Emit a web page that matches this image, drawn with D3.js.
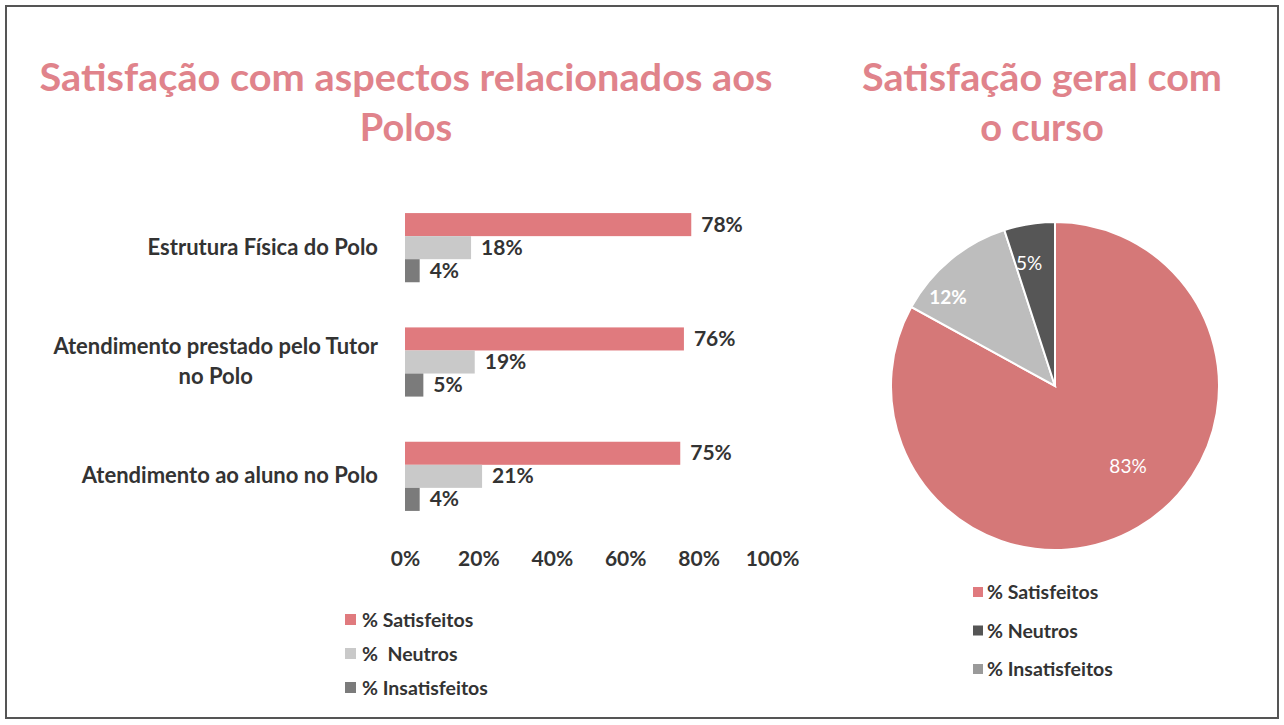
<!DOCTYPE html>
<html><head><meta charset="utf-8">
<script src="https://cdn.jsdelivr.net/npm/d3@7"></script>
<style>body{margin:0;background:#fff}svg{display:block}text{font-family:Lato,"Open Sans",sans-serif}</style>
</head><body>
<svg id="c" width="1284" height="725"></svg>
<script>
const categories = ["Estrutura Física do Polo", "Atendimento prestado pelo Tutor|no Polo", "Atendimento ao aluno no Polo"];
const seriesNames = ["% Satisfeitos", "%  Neutros", "% Insatisfeitos"];
const satisfeitos = [78, 76, 75];
const neutros = [18, 19, 21];
const insatisfeitos = [4, 5, 4];
const xTicks = [0, 20, 40, 60, 80, 100];
const pieLabels = ["% Satisfeitos", "% Neutros", "% Insatisfeitos"];
const pieValues = [83, 12, 5];
const barTitle = ["Satisfação com aspectos relacionados aos", "Polos"];
const pieTitle = ["Satisfação geral com", "o curso"];

const svg = d3.select("#c");
const titleColor = "#e0838b", textColor = "#333";
const barColors = ["#e07a7e", "#c9c9c9", "#7b7b7b"];
const pieColors = ["#d57878", "#bdbdbd", "#565656"];
const pieLegendColors = ["#e07a7e", "#555", "#9a9a9a"];

svg.append("rect").attr("x", 6).attr("y", 6).attr("width", 1272).attr("height", 712)
  .attr("fill", "none").attr("stroke", "#555").attr("stroke-width", 2);

function title(lines, cx, w1) {
  lines.forEach((t, i) => {
    const el = svg.append("text").attr("x", cx).attr("y", 91 + i * 50).attr("text-anchor", "middle")
      .attr("fill", titleColor).attr("font-weight", 700).attr("font-size", 38).text(t);
    if (i === 0) el.attr("textLength", w1).attr("lengthAdjust", "spacingAndGlyphs");
  });
}
title(barTitle, 406, 733);
title(pieTitle, 1042, 360);

// Bar chart
const x = d3.scaleLinear().domain([0, 100]).range([405, 772]);
const y = d3.scaleBand().domain(categories).range([190.5, 533.5]).paddingInner(0.395).paddingOuter(0.1975);
const sub = d3.scaleBand().domain([0, 1, 2]).range([0, y.bandwidth()]);
const series = [satisfeitos, neutros, insatisfeitos];
const g = svg.append("g");
series.forEach((vals, si) => {
  g.selectAll(null).data(vals).enter().append("rect")
    .attr("x", x(0)).attr("y", (d, i) => y(categories[i]) + sub(si))
    .attr("width", d => x(d) - x(0)).attr("height", sub.bandwidth())
    .attr("fill", barColors[si]);
  g.selectAll(null).data(vals).enter().append("text")
    .attr("x", d => x(d) + 10).attr("y", (d, i) => y(categories[i]) + sub(si) + sub.bandwidth() / 2 + 7)
    .attr("fill", textColor).attr("font-weight", 700).attr("font-size", 21).text(d => d + "%");
});
// category labels
categories.forEach(c => {
  const lines = c.split("|");
  const cy = y(c) + y.bandwidth() / 2;
  const n = lines.length;
  let firstW = null;
  lines.forEach((ln, i) => {
    const t = g.append("text").attr("y", cy + 7 + (i - (n - 1) / 2) * 30)
      .attr("fill", textColor).attr("font-weight", 700).attr("font-size", 22).text(ln);
    if (i === 0) { t.attr("x", 378).attr("text-anchor", "end"); firstW = t.node().getComputedTextLength(); }
    else { t.attr("x", 378 - firstW / 2).attr("text-anchor", "middle"); }
  });
});
// x axis
const xAxis = d3.axisBottom(x).tickValues(xTicks).tickFormat(d => d + "%").tickSize(0).tickPadding(0);
const ax = svg.append("g").attr("transform", "translate(0,551)").call(xAxis);
ax.select(".domain").remove();
ax.selectAll("text").attr("fill", textColor).attr("font-weight", 700).attr("font-size", 21)
  .style("font-family", "Lato,sans-serif");

// bar legend
seriesNames.forEach((s, i) => {
  svg.append("rect").attr("x", 345).attr("y", 614 + i * 34).attr("width", 11).attr("height", 11).attr("fill", barColors[i]);
  svg.append("text").attr("x", 362).attr("y", 627 + i * 34).attr("fill", textColor)
    .attr("font-weight", 700).attr("font-size", 19.5).style("white-space", "pre").text(s);
});

// Pie
const cx = 1055, cy = 386, r = 164;
const pie = d3.pie().sort(null).value(d => d)(pieValues);
const arc = d3.arc().innerRadius(0).outerRadius(r);
const pg = svg.append("g").attr("transform", `translate(${cx},${cy})`);
pg.selectAll("path").data(pie).enter().append("path").attr("d", arc)
  .attr("fill", (d, i) => pieColors[i]).attr("stroke", "#fff").attr("stroke-width", 2);
const labelPos = [[73, 80], [-107, -89], [-26, -123]];
const labelWeight = [400, 700, 400];
pie.forEach((d, i) => {
  pg.append("text").attr("x", labelPos[i][0]).attr("y", labelPos[i][1] + 7).attr("text-anchor", "middle")
    .attr("fill", "#fff").attr("font-weight", labelWeight[i]).attr("font-size", 19).text(d.data + "%");
});
pieLabels.forEach((s, i) => {
  svg.append("rect").attr("x", 973).attr("y", 587 + i * 38.5).attr("width", 10).attr("height", 10).attr("fill", pieLegendColors[i]);
  svg.append("text").attr("x", 987).attr("y", 599 + i * 38.5).attr("fill", textColor)
    .attr("font-weight", 700).attr("font-size", 19.5).text(s);
});
</script>
</body></html>
